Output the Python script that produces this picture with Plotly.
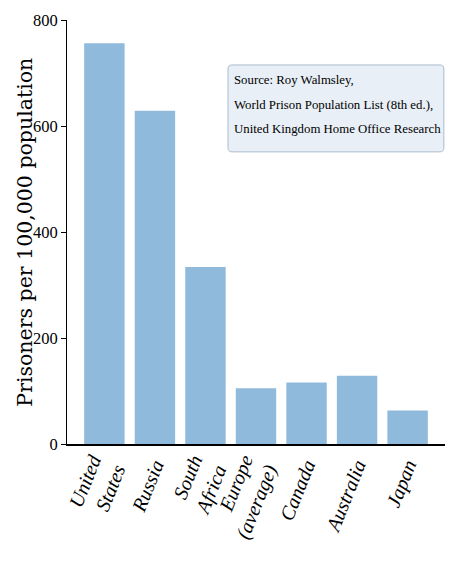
import plotly.graph_objects as go

categories = ["United<br>States", "Russia", "South<br>Africa", "Europe<br>(average)",
              "Canada", "Australia", "Japan"]
values = [756, 629, 334, 105, 116, 129, 63]
y_ticks = [0, 200, 400, 600, 800]
source_lines = ["Source: Roy Walmsley,",
                "World Prison Population List (8th ed.),",
                "United Kingdom Home Office Research"]

fig = go.Figure()
fig.add_trace(go.Bar(
    x=list(range(len(categories))), y=values,
    width=0.8,
    marker=dict(color="#8fbadb", line=dict(width=0)),
))

fig.update_layout(
    width=451, height=569,
    margin=dict(l=67, r=6, t=20, b=125),
    plot_bgcolor="white", paper_bgcolor="white",
    showlegend=False,
    bargap=0.2,
)
fig.update_xaxes(
    range=[-0.74, 6.74], automargin=False,
    tickmode="array", tickvals=list(range(len(categories))), ticktext=categories,
    tickangle=-68,
    tickfont=dict(family="Liberation Serif", size=20, color="black", style="italic"),
    showline=True, linecolor="black", linewidth=1.5,
    showgrid=False, zeroline=False, ticks="",
)
fig.update_yaxes(
    range=[0, 800], automargin=False,
    tickmode="array", tickvals=y_ticks, ticktext=[str(v) for v in y_ticks],
    tickfont=dict(family="Liberation Serif", size=16.5, color="black"),
    ticks="outside", ticklen=5, tickcolor="black",
    showline=True, linecolor="black", linewidth=1,
    showgrid=False, zeroline=False,
)
fig.add_annotation(
    xref="paper", yref="paper", x=-0.112, y=0.5,
    xanchor="center", yanchor="middle", showarrow=False, textangle=-90,
    text="Prisoners per 100,000 population",
    font=dict(family="DejaVu Serif", size=20.5, color="black"),
)

# rounded source box
x0, x1, y0, y1 = 0.426, 0.997, 0.689, 0.894
rx, ry = 0.011, 0.0095
path = (f"M {x0+rx},{y0} L {x1-rx},{y0} Q {x1},{y0} {x1},{y0+ry} "
        f"L {x1},{y1-ry} Q {x1},{y1} {x1-rx},{y1} "
        f"L {x0+rx},{y1} Q {x0},{y1} {x0},{y1-ry} "
        f"L {x0},{y0+ry} Q {x0},{y0} {x0+rx},{y0} Z")
fig.add_shape(type="path", path=path, xref="paper", yref="paper",
              fillcolor="#e8eff6", line=dict(color="#a9bccd", width=1))
for i, line in enumerate(source_lines):
    fig.add_annotation(
        xref="paper", yref="paper", x=0.436, y=0.858 - i * 0.058,
        xanchor="left", yanchor="middle", align="left", showarrow=False,
        text=line,
        font=dict(family="Liberation Serif", size=12.8, color="black"),
    )

fig.write_html(
    "out.html",
    config={"displayModeBar": False},
    post_script="document.body.style.margin='0';document.body.style.overflow='hidden';",
)
